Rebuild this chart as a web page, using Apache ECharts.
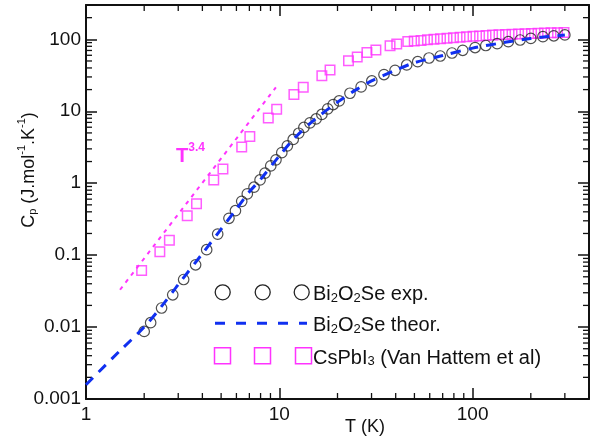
<!DOCTYPE html>
<html><head><meta charset="utf-8">
<script src="https://cdn.jsdelivr.net/npm/echarts@6/dist/echarts.min.js"></script>
<style>html,body{margin:0;padding:0;background:#fff}#c{width:593px;height:440px}</style>
</head><body><div id="c"></div>
<script>
// Bi2O2Se experimental
const expT = [2.0, 2.16, 2.46, 2.81, 3.2, 3.69, 4.21, 4.8, 5.49, 5.93, 6.39, 6.83, 7.4, 7.95, 8.43, 9.03, 9.61, 10.3, 11.0, 11.8, 12.6, 13.4, 14.4, 15.5, 16.6, 17.8, 19.0, 20.4, 23.2, 26.5, 30.1, 34.8, 39.7, 45.6, 52.0, 59.5, 68.0, 78.2, 88.9, 103, 117, 134, 153, 176, 200, 231, 263, 300];
const expCp = [0.0087, 0.0115, 0.0184, 0.0281, 0.0458, 0.0733, 0.119, 0.196, 0.325, 0.415, 0.559, 0.71, 0.88, 1.11, 1.38, 1.74, 2.11, 2.66, 3.30, 4.06, 4.95, 5.96, 6.9, 7.82, 9.03, 10.8, 12.4, 13.9, 17.8, 21.8, 26.4, 32.4, 37.1, 44.0, 48.9, 55.0, 58.6, 64.5, 70.3, 76.9, 82.0, 86.9, 92.6, 97.8, 103, 109, 112, 115];
// Bi2O2Se theoretical
const theoT = [1, 1.5, 2, 2.5, 3, 4, 5, 6, 7, 8, 10, 12, 15, 20, 25, 30, 40, 50, 70, 100, 150, 200, 300];
const theoCp = [0.00158, 0.0047, 0.0100, 0.0205, 0.039, 0.105, 0.23, 0.44, 0.76, 1.13, 2.4, 4.25, 7.4, 13.4, 20, 26.4, 37.3, 47.3, 59.5, 75.5, 91.5, 103, 115];
// CsPbI3 (Van Hattem et al)
const csT = [1.94, 2.41, 2.70, 3.34, 3.73, 4.58, 5.11, 6.39, 7.04, 8.77, 9.69, 11.9, 13.3, 16.6, 18.3, 22.8, 25.3, 28.4, 31.6, 37.4, 40.5, 46.2, 49.9, 54.1, 58.4, 63.1, 68.2, 73.7, 79.6, 86.1, 93.0, 100.5, 108.6, 117.3, 126.8, 136.9, 148.0, 159.9, 172.8, 186.7, 201.7, 218, 235.5, 254.4, 274.9, 297];
const csCp = [0.0611, 0.111, 0.161, 0.354, 0.516, 1.11, 1.57, 3.19, 4.47, 8.07, 10.7, 17.1, 21.5, 31.1, 37.5, 50.5, 56.8, 65.6, 71.0, 81.5, 86.0, 93.2, 94.7, 96.5, 98.4, 100.3, 101.9, 103.6, 105.2, 106.9, 108.7, 110.1, 111.5, 112.9, 114.4, 115.5, 116.6, 117.7, 118.9, 120.0, 120.8, 121.6, 122.3, 123.1, 123.9, 124.7];
// T^3.4 guide line
const powT = [1.5, 9.6];
const powCp = [0.033, 21.5];
// minor ticks
const xMinor = [2, 3, 4, 5, 6, 7, 8, 9, 20, 30, 40, 50, 60, 70, 80, 90, 200, 300];
const yMinor = [0.002, 0.003, 0.004, 0.005, 0.006, 0.007, 0.008, 0.009, 0.02, 0.03, 0.04, 0.05, 0.06, 0.07, 0.08, 0.09, 0.2, 0.3, 0.4, 0.5, 0.6, 0.7, 0.8, 0.9, 2, 3, 4, 5, 6, 7, 8, 9, 20, 30, 40, 50, 60, 70, 80, 90, 200];

const FONT = 'Liberation Sans, Arial, sans-serif';
const INK = '#111';
const MAG = '#ff33ff';
const BLUE = '#1030f0';
const zip = (a, b) => a.map((v, i) => [v, b[i]]);

function fmt(v) {
  const l = Math.log10(v);
  const r = Math.round(l);
  if (Math.abs(l - r) > 1e-6) return '';
  return String(Number(Math.pow(10, r).toFixed(Math.max(0, -r))));
}

const axisCommon = {
  type: 'log', logBase: 10,
  axisLine: { lineStyle: { color: INK, width: 2 } },
  axisTick: { inside: true, length: 11, lineStyle: { color: INK, width: 1.5 } },
  splitLine: { show: false },
  minorTick: { show: false }
};

function minorRender(isX) {
  return function (params, api) {
    const cs = params.coordSys;
    const p = api.coord([api.value(0), api.value(1)]);
    const st = { stroke: INK, lineWidth: 1.3 };
    const L = 6;
    if (isX) {
      return { type: 'group', children: [
        { type: 'line', shape: { x1: p[0], y1: cs.y + cs.height, x2: p[0], y2: cs.y + cs.height - L }, style: st },
        { type: 'line', shape: { x1: p[0], y1: cs.y, x2: p[0], y2: cs.y + L }, style: st }
      ]};
    }
    return { type: 'group', children: [
      { type: 'line', shape: { x1: cs.x, y1: p[1], x2: cs.x + L, y2: p[1] }, style: st },
      { type: 'line', shape: { x1: cs.x + cs.width, y1: p[1], x2: cs.x + cs.width - L, y2: p[1] }, style: st }
    ]};
  };
}

const chart = echarts.init(document.getElementById('c'), null, { renderer: 'canvas' });
const subRich = {
  n: { fontSize: 20, lineHeight: 25, verticalAlign: 'bottom', fontFamily: FONT, fill: INK },
  s: { fontSize: 13, lineHeight: 13, verticalAlign: 'bottom', fontFamily: FONT, fill: INK }
};
chart.setOption({
  animation: false,
  backgroundColor: '#fff',
  grid: { left: 86, right: 4, top: 5, bottom: 41 },
  xAxis: [
    Object.assign({}, axisCommon, { min: 1, max: 400, position: 'bottom',
      axisLabel: { fontSize: 19, color: INK, fontFamily: FONT, margin: 6, formatter: fmt } }),
    Object.assign({}, axisCommon, { min: 1, max: 400, position: 'top', axisLabel: { show: false } })
  ],
  yAxis: [
    Object.assign({}, axisCommon, { min: 0.001, max: 300, position: 'left',
      axisLabel: { fontSize: 19, color: INK, fontFamily: FONT, margin: 5, formatter: fmt } }),
    Object.assign({}, axisCommon, { min: 0.001, max: 300, position: 'right', axisLabel: { show: false } })
  ],
  series: [
    { type: 'custom', silent: true, renderItem: minorRender(true), data: xMinor.map(v => [v, 1]), z: 1 },
    { type: 'custom', silent: true, renderItem: minorRender(false), data: yMinor.map(v => [1, v]), z: 1 },
    { name: 'CsPbI3', type: 'scatter', symbol: 'rect', symbolSize: 9.5, data: zip(csT, csCp),
      itemStyle: { color: 'rgba(0,0,0,0)', borderColor: MAG, borderWidth: 1.5 }, z: 3 },
    { name: 'Bi2O2Se exp.', type: 'scatter', symbol: 'circle', symbolSize: 10.5, data: zip(expT, expCp),
      itemStyle: { color: 'rgba(0,0,0,0)', borderColor: '#222', borderWidth: 1.2 }, z: 3 },
    { name: 'Bi2O2Se theor.', type: 'line', smooth: 0.3, showSymbol: false, data: zip(theoT, theoCp),
      lineStyle: { color: BLUE, width: 3, type: [10, 8] }, z: 4 },
    { name: 'T3.4', type: 'line', showSymbol: false, data: zip(powT, powCp),
      lineStyle: { color: MAG, width: 2, type: [4, 5] }, z: 4 }
  ],
  graphic: [
    { type: 'text', x: 27, y: 170, rotation: Math.PI / 2,
      style: { text: '{n|C}{s|p}{n| (J.mol}{u|-1}{n|.K}{u|-1}{n|)}', align: 'center', verticalAlign: 'middle',
        rich: {
          n: { fontSize: 18, lineHeight: 22, verticalAlign: 'bottom', fontFamily: FONT, fill: INK },
          s: { fontSize: 11, lineHeight: 11, verticalAlign: 'bottom', fontFamily: FONT, fill: INK },
          u: { fontSize: 11, lineHeight: 14, verticalAlign: 'top', fontFamily: FONT, fill: INK }
        } } },
    { type: 'text', x: 365, y: 427,
      style: { text: 'T (K)', align: 'center', verticalAlign: 'middle', fontSize: 18, fontFamily: FONT, fill: INK } },
    { type: 'text', x: 176, y: 154,
      style: { text: '{t|T}{u|3.4}', align: 'left', verticalAlign: 'middle',
        rich: {
          t: { fontSize: 20, fontWeight: 'bold', lineHeight: 24, verticalAlign: 'bottom', fontFamily: FONT, fill: MAG },
          u: { fontSize: 12, fontWeight: 'bold', lineHeight: 14, verticalAlign: 'top', fontFamily: FONT, fill: MAG }
        } } },
    // legend
    { type: 'circle', shape: { cx: 222.7, cy: 292.3, r: 7.5 }, style: { fill: 'none', stroke: '#222', lineWidth: 1.3 } },
    { type: 'circle', shape: { cx: 262.7, cy: 292.3, r: 7.5 }, style: { fill: 'none', stroke: '#222', lineWidth: 1.3 } },
    { type: 'circle', shape: { cx: 301.7, cy: 292.3, r: 7.5 }, style: { fill: 'none', stroke: '#222', lineWidth: 1.3 } },
    { type: 'text', x: 313, y: 292.3,
      style: { text: '{n|Bi}{s|2}{n|O}{s|2}{n|Se exp.}', align: 'left', verticalAlign: 'middle', rich: subRich } },
    { type: 'line', shape: { x1: 215, y1: 323.3, x2: 307, y2: 323.3 }, style: { stroke: BLUE, lineWidth: 3, lineDash: [10, 11] } },
    { type: 'text', x: 313, y: 323.3,
      style: { text: '{n|Bi}{s|2}{n|O}{s|2}{n|Se theor.}', align: 'left', verticalAlign: 'middle', rich: subRich } },
    { type: 'rect', shape: { x: 214.5, y: 347.7, width: 16, height: 16 }, style: { fill: 'none', stroke: MAG, lineWidth: 1.5 } },
    { type: 'rect', shape: { x: 254.5, y: 347.7, width: 16, height: 16 }, style: { fill: 'none', stroke: MAG, lineWidth: 1.5 } },
    { type: 'rect', shape: { x: 295.5, y: 347.7, width: 16, height: 16 }, style: { fill: 'none', stroke: MAG, lineWidth: 1.5 } },
    { type: 'text', x: 313, y: 355.7,
      style: { text: '{n|CsPbI}{s|3}{n| (Van Hattem et al)}', align: 'left', verticalAlign: 'middle', rich: subRich } }
  ]
});
</script></body></html>
